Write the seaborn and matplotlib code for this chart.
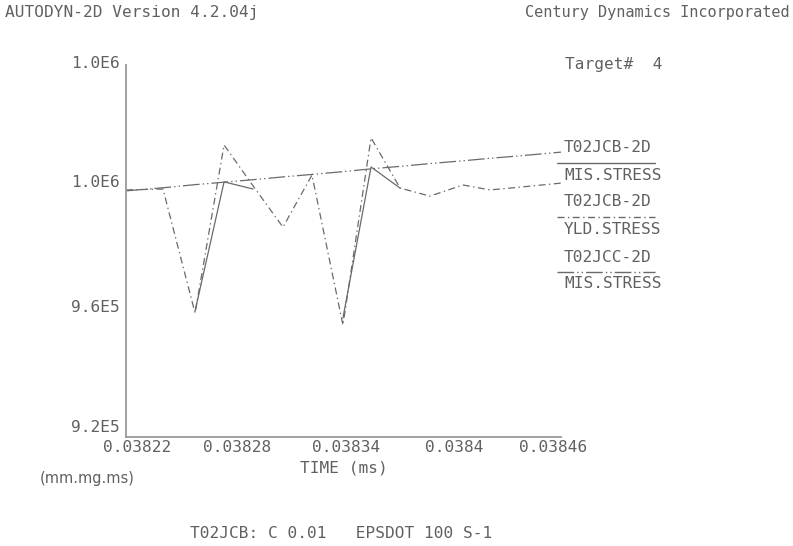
import numpy as np
import pandas as pd
import matplotlib
matplotlib.use("Agg")
import matplotlib.pyplot as plt
from matplotlib.lines import Line2D
import seaborn as sns

# ---- data -------------------------------------------------------------
time_ms = [0.038220, 0.0382404, 0.0382581, 0.0382741, 0.0382901,
           0.0383066, 0.0383226, 0.0383397, 0.0383552, 0.0383712,
           0.0383877, 0.0384059, 0.0384208, 0.0384374, 0.038460]

# T02JCB-2D von Mises stress (only the parts that separate from the other traces)
jcb_mis = [np.nan, np.nan, 960600, 1002300, 1000000,
           np.nan, np.nan, 958400, 1007100, 1000300,
           np.nan, np.nan, np.nan, np.nan, np.nan]

# T02JCB-2D yield stress
jcb_yld = [999700, 1000000, 960000, 1014200, 1001000,
           987700, 1004500, 956100, 1016500, 1000300,
           997700, 1001300, 999700, 1000600, 1001900]

# T02JCC-2D von Mises stress
jcc_mis = [999400, 1000400, 1001400, 1002200, 1003000,
           1003900, 1004700, 1005600, 1006500, 1007300,
           1008200, 1009100, 1009900, 1010700, 1011900]

x_ticks = [0.03822, 0.03828, 0.03834, 0.0384, 0.03846]
x_tick_labels = ["0.03822", "0.03828", "0.03834", "0.0384", "0.03846"]
y_ticks = [9.2e5, 9.6e5, 1.0e6, 1.04e6]
y_tick_labels = ["9.2E5", "9.6E5", "1.0E6", "1.0E6"]

legend_entries = [("T02JCB-2D", "MIS.STRESS"),
                  ("T02JCB-2D", "YLD.STRESS"),
                  ("T02JCC-2D", "MIS.STRESS")]

# ---- style ------------------------------------------------------------
sns.set_style("white")
plt.rcParams["font.family"] = ["DejaVu Sans Mono", "DejaVu Sans"]
plt.rcParams["lines.scale_dashes"] = False

W, H = 793, 546
fig = plt.figure(figsize=(W / 100, H / 100), dpi=100)
fig.patch.set_facecolor("white")

def fx(px):
    return px / W

def fy(py):
    return 1 - py / H

LINE_C = "#6a6a6a"
AXIS_C = "#999999"
TEXT_C = "#606060"
FS = 11.6

solid = "-"
dash_dot = (0, (5, 2.5, 1, 2.5))
long_dash_dd = (0, (12, 2.2, 1, 2.2, 1, 2.2))
styles = [solid, dash_dot, long_dash_dd]

ax = fig.add_axes([fx(126), fy(437), fx(561) - fx(126), fy(65) - fy(437)])
ax.set_xlim(x_ticks[0], x_ticks[-1])
ax.set_ylim(y_ticks[0], y_ticks[-1])

df = pd.DataFrame({"time": time_ms, "jcb_mis": jcb_mis,
                   "jcb_yld": jcb_yld, "jcc_mis": jcc_mis})

sns.lineplot(data=df, x="time", y="jcc_mis", ax=ax, color=LINE_C,
             lw=0.9, linestyle=long_dash_dd, sort=False)
sns.lineplot(data=df, x="time", y="jcb_yld", ax=ax, color=LINE_C,
             lw=0.9, linestyle=dash_dot, sort=False)

# solid trace: draw each contiguous run separately
valid = df["jcb_mis"].notna()
run_id = (valid != valid.shift()).cumsum()
for _, seg in df[valid].groupby(run_id[valid]):
    sns.lineplot(data=seg, x="time", y="jcb_mis", ax=ax, color=LINE_C,
                 lw=0.9, linestyle=solid, sort=False)

# axes frame
for side in ["top", "right"]:
    ax.spines[side].set_visible(False)
for side in ["left", "bottom"]:
    ax.spines[side].set_color(AXIS_C)
    ax.spines[side].set_linewidth(1.3)
ax.set_xticks(x_ticks)
ax.set_yticks(y_ticks)
ax.set_xticklabels([])
ax.set_yticklabels([])
ax.tick_params(direction="in", length=7, width=1.2, color=AXIS_C)
ax.set_xlabel("")
ax.set_ylabel("")
ax.grid(False)

# tick labels
x_shift = [11, 2.5, 3, 2, -8]
for t, lab, dx in zip(x_ticks, x_tick_labels, x_shift):
    ax.annotate(lab, xy=(t, 0), xycoords=("data", "axes fraction"),
                xytext=(dx, -11), textcoords="offset pixels",
                ha="center", va="center", fontsize=FS, color=TEXT_C)
y_shift = [9, 5, 6, 1]
for v, lab, dy in zip(y_ticks, y_tick_labels, y_shift):
    ax.annotate(lab, xy=(0, v), xycoords=("axes fraction", "data"),
                xytext=(-6, dy), textcoords="offset pixels",
                ha="right", va="center", fontsize=FS, color=TEXT_C)

# header, footer and axis captions
fig.text(fx(5), fy(13), "AUTODYN-2D Version 4.2.04j", ha="left", va="center",
         fontsize=FS, color=TEXT_C)
fig.text(fx(790), fy(13), "Century Dynamics Incorporated", ha="right",
         va="center", fontsize=FS - 0.6, color=TEXT_C)
fig.text(fx(565), fy(65), "Target#  4", ha="left", va="center",
         fontsize=FS, color=TEXT_C)
fig.text(fx(344), fy(468), "TIME (ms)", ha="center", va="center",
         fontsize=FS, color=TEXT_C)
fig.text(fx(40), fy(479), "(mm.mg.ms)", ha="left", va="center",
         fontsize=10.5, color=TEXT_C, family="DejaVu Sans")
fig.text(fx(190), fy(533), "T02JCB: C 0.01   EPSDOT 100 S-1", ha="left",
         va="center", fontsize=FS, color=TEXT_C)

# legend block on the right
leg_line_y = [163, 217, 272]
for (name, qty), ly, ls in zip(legend_entries, leg_line_y, styles):
    fig.add_artist(Line2D([fx(557), fx(655)], [fy(ly), fy(ly)],
                          transform=fig.transFigure, color=LINE_C,
                          lw=1.0, linestyle=ls))
    fig.text(fx(564), fy(ly - 15), name, ha="left", va="center",
             fontsize=FS, color=TEXT_C)
    fig.text(fx(564), fy(ly + 12), qty, ha="left", va="center",
             fontsize=FS, color=TEXT_C)

fig.savefig("out.png", dpi=100, facecolor="white")
